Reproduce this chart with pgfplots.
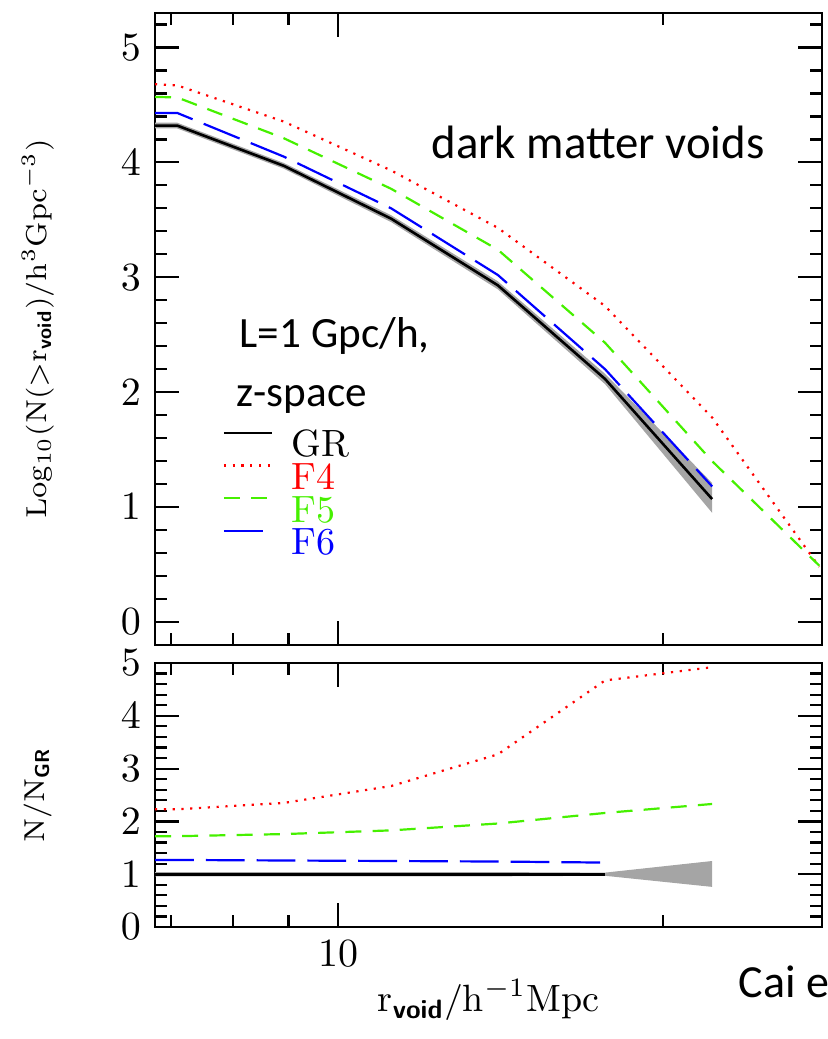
\documentclass[border=0pt]{standalone}
\usepackage{amsmath}
\usepackage{fontspec}
\newfontfamily\carlito{Carlito}
\usepackage{pgfplots}
\pgfplotsset{compat=1.18}

\definecolor{fred}{RGB}{255,0,0}
\definecolor{fgreen}{RGB}{70,240,0}
\definecolor{fblue}{RGB}{0,0,255}
\definecolor{band}{RGB}{165,165,165}

\tikzset{
  grline/.style={black, line width=0.65pt},
  ffour/.style={fred, line width=0.55pt, dash pattern=on 0.55pt off 1.65pt},
  ffive/.style={fgreen, line width=0.55pt, dash pattern=on 4pt off 2.8pt},
  fsix/.style={fblue, line width=0.55pt, dash pattern=on 9.7pt off 3pt},
}
\newcommand{\bsf}[1]{\textsf{\textbf{#1}}}

\begin{document}
\begin{tikzpicture}
\path[use as bounding box] (-38.75pt,-98.5pt) rectangle (168pt,161.25pt);

% cumulative void abundance
\begin{axis}[name=top, at={(0pt,0pt)}, anchor=south west,
  scale only axis, width=166.75pt, height=158pt,
  xmode=log, xmin=6.77, xmax=28.06,
  xtick={10}, xticklabels={}, minor xtick={7,8,9,20},
  ymin=-0.2, ymax=5.3,
  ytick={0,1,2,3,4,5}, minor ytick={-0.2,0,...,5.2},
  tick pos=both, tick align=inside,
  major tick length=6pt, minor tick length=2.9pt,
  axis line style={line width=0.55pt},
  every tick/.style={black, line width=0.55pt},
  tick label style={font=\fontsize{10}{12}\selectfont},
  ylabel={$\mathrm{Log_{10}(N({>}r_{\bsf{void}})/h^3Gpc^{-3})}$},
  ylabel style={font=\fontsize{7.2}{9}\selectfont,
    at={(axis description cs:-0.176,0.5)}, anchor=center},
  legend cell align=left,
  legend image code/.code={\draw[#1] (0pt,3pt) -- (12pt,3pt);},
  legend style={at={(axis description cs:0.10,0.339)}, anchor=north west,
    draw=none, fill=none, inner sep=0pt, row sep=1.9pt, column sep=4.6pt,
    font=\fontsize{9.5}{11}\selectfont,
    nodes={inner sep=0pt, text height=6pt, text depth=0pt}},
]
% GR scatter among realisations
\addplot[fill=band, draw=none, forget plot] coordinates {
  (6.77,4.345) (7.10,4.345) (8.91,3.995) (11.20,3.54) (14.06,2.965) (17.67,2.16) (22.20,1.21)
  (22.20,0.95) (17.67,2.07) (14.06,2.895) (11.20,3.48) (8.91,3.945) (7.10,4.295) (6.77,4.295)
};
\addplot[grline] coordinates {
  (6.77,4.32) (7.10,4.32) (8.91,3.97) (11.20,3.51) (14.06,2.93) (17.67,2.115) (22.20,1.07)
};
\addplot[ffour] coordinates {
  (6.77,4.68) (7.10,4.67) (8.91,4.355) (11.20,3.93) (14.06,3.43) (17.67,2.75) (22.20,1.78) (27.9,0.48)
};
\addplot[ffive] coordinates {
  (6.77,4.57) (7.10,4.565) (8.91,4.21) (11.20,3.77) (14.06,3.24) (17.67,2.43) (22.20,1.40) (27.9,0.49)
};
\addplot[fsix] coordinates {
  (6.77,4.43) (7.10,4.43) (8.91,4.05) (11.20,3.60) (14.06,3.02) (17.67,2.20) (22.20,1.18)
};
\legend{GR, \textcolor{fred}{F4}, \textcolor{fgreen}{F5}, \textcolor{fblue}{F6}}

\node[font=\carlito\fontsize{11.7}{13}\selectfont, anchor=center]
  at (axis description cs:0.664,0.796) {dark matter voids};
\node[font=\carlito\fontsize{10.8}{13}\selectfont, anchor=base west]
  at (axis description cs:0.106,0.470) {L=1 Gpc/h,};
\node[font=\carlito\fontsize{10.8}{13}\selectfont, anchor=base west]
  at (axis description cs:0.101,0.377) {z-space};
\end{axis}

% ratio to GR
\begin{axis}[name=bot, at={(0pt,-4.5pt)}, anchor=north west,
  scale only axis, width=166.75pt, height=66pt,
  xmode=log, xmin=6.77, xmax=28.06,
  xtick={10}, xticklabels={$10$}, minor xtick={7,8,9,20},
  ymin=0, ymax=5,
  ytick={0,1,2,3,4,5}, minor ytick={0,0.2,...,5},
  tick pos=both, tick align=inside,
  major tick length=6pt, minor tick length=2.9pt,
  axis line style={line width=0.55pt},
  every tick/.style={black, line width=0.55pt},
  tick label style={font=\fontsize{10}{12}\selectfont},
  ylabel={$\mathrm{N/N_{\bsf{GR}}}$},
  ylabel style={font=\fontsize{7.2}{9}\selectfont,
    at={(axis description cs:-0.176,0.5)}, anchor=center},
]
\addplot[fill=band, draw=none, forget plot] coordinates {
  (6.77,1.04) (7.10,1.04) (8.91,1.04) (11.20,1.04) (14.06,1.04) (17.67,1.03) (22.20,1.25)
  (22.20,0.76) (17.67,0.97) (14.06,0.96) (11.20,0.96) (8.91,0.96) (7.10,0.96) (6.77,0.96)
};
\addplot[grline] coordinates {
  (6.77,1) (7.10,1) (8.91,1) (11.20,1) (14.06,1) (17.67,1)
};
\addplot[ffour] coordinates {
  (6.77,2.23) (7.10,2.23) (8.91,2.35) (11.20,2.67) (14.06,3.27) (17.67,4.67) (22.20,4.92)
};
\addplot[ffive] coordinates {
  (6.77,1.72) (7.10,1.72) (8.91,1.76) (11.20,1.83) (14.06,1.96) (17.67,2.16) (22.20,2.33)
};
\addplot[fsix] coordinates {
  (6.77,1.27) (7.10,1.27) (8.91,1.26) (11.20,1.25) (14.06,1.24) (17.67,1.22)
};
\end{axis}

% x-axis title, centred under the lower panel
\node[font=\fontsize{9.5}{11}\selectfont, anchor=center, inner sep=0pt]
  at ([yshift=-18.25pt]bot.south) {$\mathrm{r_{\bsf{void}}/h^{-1}Mpc}$};
\node[font=\carlito\fontsize{11.5}{13}\selectfont, anchor=base west, inner sep=0pt]
  at ([xshift=145.75pt, yshift=-17.6pt]bot.south west) {Cai e};
\end{tikzpicture}
\end{document}
